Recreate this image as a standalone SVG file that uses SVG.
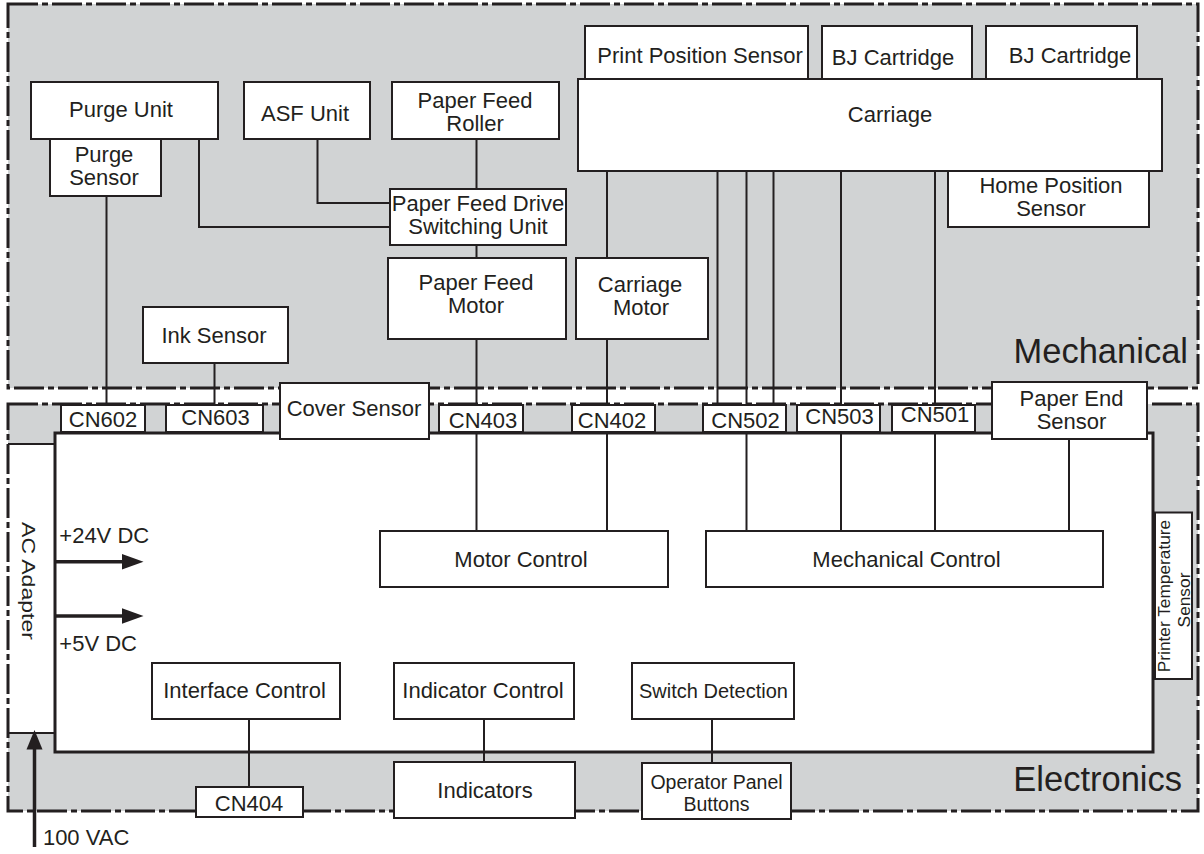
<svg xmlns="http://www.w3.org/2000/svg" width="1204" height="854" viewBox="0 0 1204 854">
<style>
text{font-family:"Liberation Sans",Arial,Helvetica,sans-serif;font-size:22px;fill:#231f20;text-anchor:middle}
.box{fill:#fff;stroke:#231f20;stroke-width:2}
.region{fill:#d1d3d4;stroke:none}
.border{fill:none;stroke:#231f20;stroke-width:3;stroke-dasharray:30 4 6 4}
.ln{stroke:#231f20;stroke-width:2;fill:none}
.pw{stroke:#231f20;stroke-width:3.5;fill:none}
.head{fill:#231f20}
text.big{font-size:34.5px;text-anchor:end}
text.st{text-anchor:start}
text.s20{font-size:20px}
text.s19{font-size:19.5px}
text.s17{font-size:17.3px}
text.s18{font-size:18px}
</style>
<rect class="region" x="8" y="4" width="1190" height="384"/>
<rect class="region" x="8" y="404" width="1190" height="407"/>
<g id="ac-adapter">
<rect x="8" y="444" width="46" height="289" fill="#fff"/>
<line class="ln" x1="8" y1="444" x2="54" y2="444" stroke-width="1.5"/>
<line class="ln" x1="8" y1="733" x2="54" y2="733" stroke-width="1.5"/>
<text class="s18" transform="translate(21.5,581) rotate(90)" textLength="118" lengthAdjust="spacingAndGlyphs">AC Adapter</text>
</g>
<g id="board">
<rect x="55" y="433" width="1098" height="319" fill="#fff" stroke="#231f20" stroke-width="3"/>
</g>
<rect class="border" x="8" y="4" width="1190" height="384"/>
<rect class="border" x="8" y="404" width="1190" height="407"/>
<text class="big" x="1188" y="363">Mechanical</text>
<text class="big" x="1182" y="791">Electronics</text>

<g id="connectors">
<polyline class="ln" points="106.5,196 106.5,405"/>
<polyline class="ln" points="199,139 199,227 390,227"/>
<polyline class="ln" points="317.5,139 317.5,203 390,203"/>
<line class="ln" x1="476.5" y1="139" x2="476.5" y2="189"/>
<line class="ln" x1="476.5" y1="245" x2="476.5" y2="258"/>
<line class="ln" x1="476.5" y1="339" x2="476.5" y2="405"/>
<line class="ln" x1="476.5" y1="432" x2="476.5" y2="531"/>
<line class="ln" x1="214.5" y1="363" x2="214.5" y2="405"/>
<line class="ln" x1="607" y1="171" x2="607" y2="258"/>
<line class="ln" x1="607" y1="339" x2="607" y2="405"/>
<line class="ln" x1="607" y1="432" x2="607" y2="531"/>
<line class="ln" x1="717.5" y1="171" x2="717.5" y2="405"/>
<line class="ln" x1="746.5" y1="171" x2="746.5" y2="405"/>
<line class="ln" x1="773.5" y1="171" x2="773.5" y2="405"/>
<line class="ln" x1="746.5" y1="432" x2="746.5" y2="531"/>
<line class="ln" x1="841" y1="171" x2="841" y2="531"/>
<line class="ln" x1="935" y1="171" x2="935" y2="531"/>
<line class="ln" x1="1069" y1="439" x2="1069" y2="531"/>
<line class="ln" x1="249" y1="719" x2="249" y2="787"/>
<line class="ln" x1="484" y1="719" x2="484" y2="762"/>
<line class="ln" x1="712" y1="719" x2="712" y2="763"/>
<line class="pw" x1="55" y1="561.7" x2="125" y2="561.7"/>
<polygon class="head" points="122,554 143.5,561.7 122,569.5"/>
<line class="pw" x1="55" y1="616" x2="125" y2="616"/>
<polygon class="head" points="122,608.3 143.5,616 122,623.7"/>
<line class="pw" x1="34.5" y1="847" x2="34.5" y2="745"/>
<polygon class="head" points="26.5,749.5 34.5,730 42.5,749.5"/>
</g>

<g id="purge-unit"><rect class="box" x="31" y="82" width="187" height="57"/><text x="121" y="116.7">Purge Unit</text></g>
<g id="purge-sensor"><rect class="box" x="50" y="139" width="111" height="57"/><text x="104" y="161.5">Purge</text><text x="104" y="184.5">Sensor</text></g>
<g id="asf-unit"><rect class="box" x="244" y="82" width="126" height="57"/><text x="305" y="120.7">ASF Unit</text></g>
<g id="paper-feed-roller"><rect class="box" x="392" y="82" width="167" height="57"/><text x="475" y="108">Paper Feed</text><text x="475" y="131">Roller</text></g>
<g id="paper-feed-drive"><rect class="box" x="390" y="189" width="176" height="56"/><text x="478" y="210.5">Paper Feed Drive</text><text x="478" y="233.5">Switching Unit</text></g>
<g id="paper-feed-motor"><rect class="box" x="388" y="258" width="178" height="81"/><text x="476" y="290">Paper Feed</text><text x="476" y="313.3">Motor</text></g>
<g id="carriage-motor"><rect class="box" x="576" y="258" width="132" height="81"/><text x="640" y="291.7">Carriage</text><text x="641" y="315">Motor</text></g>
<g id="ink-sensor"><rect class="box" x="143" y="307" width="145" height="56"/><text x="214" y="342.7">Ink Sensor</text></g>
<g id="print-position-sensor"><rect class="box" x="585" y="26" width="223" height="53"/><text x="700" y="63.3">Print Position Sensor</text></g>
<g id="bj-cartridge-1"><rect class="box" x="822" y="26" width="150" height="53"/><text x="893" y="65">BJ Cartridge</text></g>
<g id="bj-cartridge-2"><rect class="box" x="986" y="26" width="151" height="53"/><text x="1070" y="63.3">BJ Cartridge</text></g>
<g id="carriage"><rect class="box" x="578" y="79" width="584" height="92"/><text x="890" y="121.7">Carriage</text></g>
<g id="home-position-sensor"><rect class="box" x="948" y="171" width="201" height="56"/><text x="1051" y="192.5">Home Position</text><text x="1051" y="215.5">Sensor</text></g>

<g id="cn602"><rect class="box" x="61" y="405" width="84" height="27"/><text x="103" y="426.7">CN602</text></g>
<g id="cn603"><rect class="box" x="166" y="405" width="97" height="27"/><text x="215.5" y="425.3">CN603</text></g>
<g id="cover-sensor"><rect class="box" x="280" y="383" width="149" height="56"/><text x="354" y="416">Cover Sensor</text></g>
<g id="cn403"><rect class="box" x="439" y="405" width="84" height="27"/><text x="483" y="427.7">CN403</text></g>
<g id="cn402"><rect class="box" x="572" y="405" width="83" height="27"/><text x="612" y="427.7">CN402</text></g>
<g id="cn502"><rect class="box" x="703" y="405" width="83" height="27"/><text x="745.5" y="428.3">CN502</text></g>
<g id="cn503"><rect class="box" x="797" y="405" width="83" height="27"/><text x="839.5" y="424">CN503</text></g>
<g id="cn501"><rect class="box" x="892" y="405" width="83" height="27"/><text x="935" y="422.3">CN501</text></g>
<g id="paper-end-sensor"><rect class="box" x="992" y="382" width="155" height="57"/><text x="1071.5" y="405.5">Paper End</text><text x="1071.5" y="428.5">Sensor</text></g>

<g id="motor-control"><rect class="box" x="380" y="531" width="288" height="56"/><text x="521" y="566.7">Motor Control</text></g>
<g id="mechanical-control"><rect class="box" x="706" y="531" width="397" height="56"/><text x="906.5" y="566.7">Mechanical Control</text></g>
<g id="printer-temperature-sensor"><rect class="box" x="1155" y="512.5" width="37" height="166.5"/><text class="s17" transform="translate(1170,596) rotate(-90)">Printer Temperature</text><text class="s17" transform="translate(1189.5,600) rotate(-90)">Sensor</text></g>
<g id="interface-control"><rect class="box" x="152" y="663" width="188" height="56"/><text x="244.5" y="698.3">Interface Control</text></g>
<g id="indicator-control"><rect class="box" x="394" y="663" width="180" height="56"/><text x="483" y="698.3">Indicator Control</text></g>
<g id="switch-detection"><rect class="box" x="632" y="663" width="162" height="56"/><text class="s20" x="713.5" y="698.3">Switch Detection</text></g>
<g id="cn404"><rect class="box" x="196" y="787" width="107" height="30"/><text x="249" y="811">CN404</text></g>
<g id="indicators"><rect class="box" x="394" y="762" width="181" height="56"/><text x="485" y="798.3">Indicators</text></g>
<g id="operator-panel-buttons"><rect class="box" x="642" y="763" width="149" height="56"/><text class="s19" x="716.5" y="789.3">Operator Panel</text><text class="s19" x="716.5" y="810.5">Buttons</text></g>

<text class="st" x="59.3" y="543.3">+24V DC</text>
<text class="st" x="59.3" y="650.7">+5V DC</text>
<text class="st" x="42.9" y="845">100 VAC</text>
</svg>
